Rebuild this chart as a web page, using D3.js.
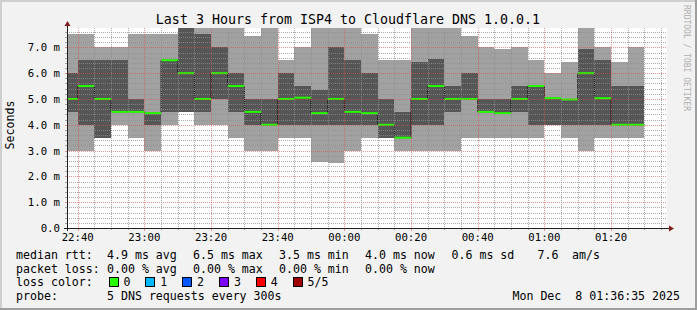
<!DOCTYPE html>
<html>
<head>
<meta charset="utf-8">
<script src="https://cdn.jsdelivr.net/npm/d3@7"></script>
<style>
  body { margin: 0; background: #f2f2f2; }
  svg { display: block; }
  text { font-family: "DejaVu Sans Mono", monospace; fill: #000; }
</style>
</head>
<body>
<svg id="chart" width="697" height="310"></svg>
<script>
// end time of each 5 minute sample
const sampleEnds = ["22:40","22:45","22:50","22:55","23:00","23:05","23:10","23:15","23:20","23:25",
  "23:30","23:35","23:40","23:45","23:50","23:55","00:00","00:05","00:10","00:15",
  "00:20","00:25","00:30","00:35","00:40","00:45","00:50","00:55","01:00","01:05",
  "01:10","01:15","01:20","01:25","01:30"];
// 5 pings per sample, sorted (ms)
const pingMin  = [3.0,3.0,3.5,4.0,3.5,3.0,4.0,4.5,4.0,4.0,3.5,3.0,3.0,3.5,3.5,2.55,2.5,3.0,3.5,3.5,
                  3.0,3.0,3.0,3.0,3.5,3.5,3.5,3.5,3.5,4.0,3.5,3.0,3.5,3.5,3.5];
const pingLow  = [4.5,4.0,3.5,4.5,4.5,4.0,4.5,4.5,4.5,5.0,4.5,4.0,4.0,4.0,4.0,4.0,4.0,4.0,4.0,3.5,
                  3.5,4.0,4.0,4.5,5.0,4.5,4.45,4.5,4.0,4.0,4.0,4.0,4.0,4.0,4.0];
const median   = [5.0,5.5,5.0,4.5,4.5,4.45,6.5,6.0,5.0,6.0,5.5,4.5,4.0,5.0,5.05,4.45,5.0,4.5,4.45,4.0,
                  3.5,5.0,5.5,5.0,5.0,4.5,4.45,5.0,5.5,5.03,4.98,6.0,5.03,4.0,4.0];
const pingHigh = [6.0,6.5,6.5,6.5,5.0,4.45,6.5,8.0,7.5,7.0,6.0,5.0,5.0,6.0,5.5,5.35,7.0,6.5,6.0,5.0,
                  4.5,6.45,6.55,5.5,6.0,5.0,5.0,5.5,5.5,5.03,4.98,6.95,6.5,5.5,5.5];
const pingMax  = [7.5,7.5,7.0,7.0,7.5,7.5,7.5,8.0,8.0,8.0,8.0,7.45,8.0,6.5,7.0,8.0,8.0,8.0,7.5,6.5,
                  6.5,8.0,8.0,8.0,7.45,7.0,6.95,7.0,6.5,6.0,6.45,8.0,7.0,6.45,7.0];

const xTickLabels = ["22:40","23:00","23:20","23:40","00:00","00:20","00:40","01:00","01:20"];
const yTickValues = [0,1,2,3,4,5,6,7];
const yTickLabels = ["0.0","1.0 m","2.0 m","3.0 m","4.0 m","5.0 m","6.0 m","7.0 m"];

const lossLabels = ["0","1","2","3","4","5/5"];
const lossColors = ["#26ff00","#00b8ff","#0059ff","#7e00ff","#ff0000","#a10000"];

const toDate = s => {
  const [h, m] = s.split(":").map(Number);
  return new Date(2025, 11, h >= 12 ? 7 : 8, h, m);
};

const svg = d3.select("#chart");
const W = 697, H = 310;
const plot = { left: 67, right: 667, top: 28, bottom: 228 };

// frame
svg.append("rect").attr("width", W).attr("height", H).attr("fill", "#f2f2f2");
svg.append("path").attr("d", `M0,${H} V0 H${W}`).attr("fill", "none")
  .attr("stroke", "#cfcfcf").attr("stroke-width", 4);
svg.append("path").attr("d", `M0,${H} H${W} V0`).attr("fill", "none")
  .attr("stroke", "#9e9e9e").attr("stroke-width", 4);

const x = d3.scaleTime()
  .domain([new Date(2025, 11, 7, 22, 36, 47), new Date(2025, 11, 8, 1, 36, 47)])
  .range([plot.left, plot.right]);
const y = d3.scaleLinear().domain([0, 7.75]).range([plot.bottom, plot.top]);

svg.append("rect")
  .attr("x", plot.left).attr("y", plot.top)
  .attr("width", plot.right - plot.left).attr("height", plot.bottom - plot.top)
  .attr("fill", "#fff");

svg.append("clipPath").attr("id", "clip").append("rect")
  .attr("x", plot.left).attr("y", plot.top)
  .attr("width", plot.right - plot.left).attr("height", plot.bottom - plot.top);

const samples = sampleEnds.map((s, i) => ({
  end: toDate(s),
  start: d3.timeMinute.offset(toDate(s), -5),
  min: pingMin[i], low: pingLow[i], med: median[i], high: pingHigh[i], max: pingMax[i]
}));

const data = svg.append("g").attr("clip-path", "url(#clip)");

// smoke
data.selectAll(".outer").data(samples).join("rect")
  .attr("class", "outer")
  .attr("x", d => x(d.start)).attr("width", d => x(d.end) - x(d.start))
  .attr("y", d => y(d.max)).attr("height", d => y(d.min) - y(d.max))
  .attr("fill", "#a1a1a1").attr("shape-rendering", "crispEdges");
data.selectAll(".inner").data(samples).join("rect")
  .attr("class", "inner")
  .attr("x", d => x(d.start)).attr("width", d => x(d.end) - x(d.start))
  .attr("y", d => y(d.high)).attr("height", d => y(d.low) - y(d.high))
  .attr("fill", "#565656").attr("shape-rendering", "crispEdges");

// median step line
const stepPts = samples.map(d => [x(d.start), y(d.med)]);
const last = samples[samples.length - 1];
stepPts.push([x(last.end), y(last.med)]);
data.append("path")
  .attr("d", d3.line().curve(d3.curveStepAfter)(stepPts))
  .attr("fill", "none").attr("stroke", "#202020").attr("stroke-width", 1);
data.selectAll(".med").data(samples).join("line")
  .attr("class", "med")
  .attr("x1", d => x(d.start)).attr("x2", d => x(d.end))
  .attr("y1", d => y(d.med)).attr("y2", d => y(d.med))
  .attr("stroke", lossColors[0]).attr("stroke-width", 2);

// grid
const grid = svg.append("g");
const minorCol = "rgba(143,143,143,0.75)", majorCol = "rgba(222,79,79,0.6)";
y.ticks(40).forEach(v => {
  const yy = Math.round(y(v)) + 0.5;
  const major = Math.abs(v - Math.round(v)) < 1e-6;
  grid.append("line").attr("x1", plot.left - 2).attr("x2", plot.left).attr("y1", yy).attr("y2", yy)
    .attr("stroke", major ? majorCol : minorCol);
  grid.append("line").attr("x1", plot.left).attr("x2", plot.right).attr("y1", yy).attr("y2", yy)
    .attr("stroke", major ? majorCol : minorCol).attr("stroke-dasharray", "1,1");
});
const majorTimes = x.ticks(d3.timeMinute.every(20));
x.ticks(d3.timeMinute.every(5)).forEach(t => {
  const xx = Math.round(x(t)) + 0.5;
  const major = majorTimes.some(m => +m === +t);
  grid.append("line").attr("x1", xx).attr("x2", xx).attr("y1", plot.top).attr("y2", plot.bottom)
    .attr("stroke", major ? majorCol : minorCol).attr("stroke-dasharray", "1,1");
  grid.append("line").attr("x1", xx).attr("x2", xx).attr("y1", plot.bottom).attr("y2", plot.bottom + (major ? 3 : 2))
    .attr("stroke", major ? majorCol : minorCol);
});

// axes
const axisCol = "#1f1f1f", arrowCol = "#7f1f1f";
svg.append("line").attr("x1", plot.left - 3).attr("x2", plot.right + 3)
  .attr("y1", plot.bottom + 0.5).attr("y2", plot.bottom + 0.5).attr("stroke", axisCol);
svg.append("line").attr("x1", plot.left + 0.5).attr("x2", plot.left + 0.5)
  .attr("y1", plot.bottom + 3).attr("y2", plot.top - 3).attr("stroke", axisCol);
svg.append("path").attr("d", `M${plot.right + 2},${plot.bottom - 2.5} L${plot.right + 7},${plot.bottom + 0.5} L${plot.right + 2},${plot.bottom + 3.5} Z`)
  .attr("fill", arrowCol);
svg.append("path").attr("d", `M${plot.left - 2.5},${plot.top - 2} L${plot.left + 0.5},${plot.top - 7} L${plot.left + 3.5},${plot.top - 2} Z`)
  .attr("fill", arrowCol);

// tick labels
svg.append("g").selectAll("text").data(yTickValues).join("text")
  .attr("x", 60).attr("y", v => y(v) + 4)
  .attr("text-anchor", "end").attr("font-size", "10.7px")
  .text((v, i) => yTickLabels[i]);
svg.append("g").selectAll("text").data(xTickLabels).join("text")
  .attr("x", s => x(toDate(s))).attr("y", 241)
  .attr("text-anchor", "middle").attr("font-size", "10.7px")
  .text(s => s);

// title and axis title
svg.append("text").attr("x", 348).attr("y", 24).attr("text-anchor", "middle")
  .attr("font-size", "13.3px").text("Last 3 Hours from ISP4 to Cloudflare DNS 1.0.0.1");
svg.append("text").attr("transform", "translate(14,125) rotate(-90)").attr("text-anchor", "middle")
  .attr("font-size", "11.6px").text("Seconds");
svg.append("text").attr("transform", "translate(684,5) rotate(90)")
  .attr("font-size", "8px").style("fill", "#b0b0b0").text("RRDTOOL / TOBI OETIKER");

// legend
const legendRows = [
  { y: 259, items: [[16, "median rtt:"], [107, "4.9 ms avg"], [193, "6.5 ms max"], [279, "3.5 ms min"],
                    [365, "4.0 ms now"], [451.5, "0.6 ms sd"], [537.5, "7.6"], [572, "am/s"]] },
  { y: 272.5, items: [[16, "packet loss:"], [107, "0.00 % avg"], [193, "0.00 % max"], [279, "0.00 % min"],
                      [365, "0.00 % now"]] },
  { y: 286, items: [[16, "loss color:"]] },
  { y: 300, items: [[16, "probe:"], [107, "5 DNS requests every 300s"]] }
];
const leg = svg.append("g").attr("font-size", "11.6px");
legendRows.forEach(r => r.items.forEach(([lx, t]) => {
  leg.append("text").attr("x", lx).attr("y", r.y).text(t);
}));
lossLabels.forEach((l, i) => {
  const bx = 108.5 + i * 36.8;
  leg.append("rect").attr("x", Math.round(bx) + 0.5).attr("y", 277.5).attr("width", 9).attr("height", 9)
    .attr("fill", lossColors[i]).attr("stroke", "#000").attr("stroke-width", 1);
  leg.append("text").attr("x", bx + 15).attr("y", 286).text(l);
});
leg.append("text").attr("x", 680).attr("y", 300).attr("text-anchor", "end")
  .text("Mon Dec  8 01:36:35 2025").style("white-space", "pre");
</script>
</body>
</html>
